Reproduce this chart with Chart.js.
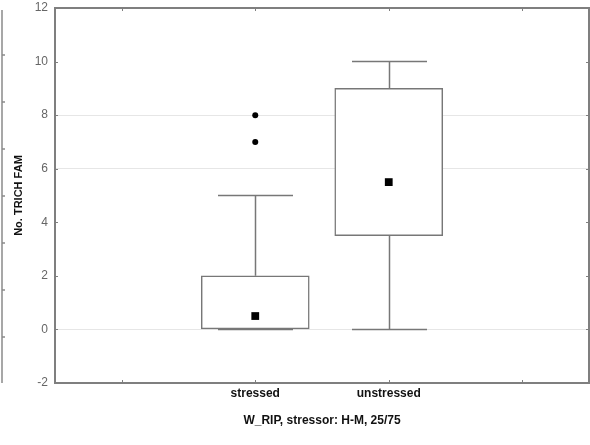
<!DOCTYPE html>
<html>
<head>
<meta charset="utf-8">
<script src="https://cdn.jsdelivr.net/npm/chart.js@4.4.1/dist/chart.umd.min.js"></script>
<style>
  html, body { margin: 0; padding: 0; background: #fff; }
  #wrap { width: 590px; height: 445px; position: relative; }
</style>
</head>
<body>
<div id="wrap"><canvas id="c" width="590" height="445"></canvas></div>
<script>
// Groups and their summary statistics
const groups       = ['stressed', 'unstressed'];
const groupPos     = [1, 2];
const boxLow       = [0, 3.5];     // 25th percentile
const boxHigh      = [2, 9];       // 75th percentile
const medians      = [0.5, 5.5];
const whiskerMin   = [0, 0];
const whiskerMax   = [5, 10];
const outliers     = [[7, 8], []];

const yTicks       = [-2, 0, 2, 4, 6, 8, 10, 12];
const gridValues   = [0, 6, 8];
const xTickSlots   = [0, 1, 2, 3];

const FRAME = '#7f7f7f';
const BOX = '#777777';
const FONT = 'Arial, "Liberation Sans", sans-serif';

const boxData = groups.map((g, i) => ({ x: groupPos[i], y: [boxLow[i], boxHigh[i]] }));
const medianData = groups.map((g, i) => ({ x: groupPos[i], y: medians[i] }));
const outlierData = [];
outliers.forEach((list, i) => list.forEach(v => outlierData.push({ x: groupPos[i], y: v })));

// Whiskers with caps, drawn beneath the boxes
const whiskerPlugin = {
  id: 'whiskers',
  beforeDatasetsDraw(chart) {
    const { ctx, scales: { x, y } } = chart;
    ctx.save();
    ctx.strokeStyle = BOX;
    ctx.lineWidth = 1.5;
    groups.forEach((g, i) => {
      const px = Math.round(x.getPixelForValue(groupPos[i])) + 0.5;
      const capHalf = 37.5;
      const segs = [[boxHigh[i], whiskerMax[i]], [boxLow[i], whiskerMin[i]]];
      segs.forEach(([from, to]) => {
        const y0 = y.getPixelForValue(from), y1 = y.getPixelForValue(to);
        ctx.beginPath();
        ctx.moveTo(px, y0); ctx.lineTo(px, y1);
        ctx.moveTo(px - capHalf, y1); ctx.lineTo(px + capHalf, y1);
        ctx.stroke();
      });
    });
    ctx.restore();
  }
};

// Frame round the plot area with inward tick marks on all sides
const framePlugin = {
  id: 'frame',
  afterDatasetsDraw(chart) {
    const { ctx, chartArea: a, scales: { x, y } } = chart;
    ctx.save();
    ctx.strokeStyle = FRAME;
    ctx.lineWidth = 2;
    ctx.strokeRect(a.left, a.top, a.right - a.left, a.bottom - a.top);
    ctx.lineWidth = 1;
    ctx.beginPath();
    yTicks.forEach(v => {
      const py = Math.round(y.getPixelForValue(v)) + 0.5;
      ctx.moveTo(a.left, py); ctx.lineTo(a.left + 3, py);
      ctx.moveTo(a.right, py); ctx.lineTo(a.right - 3, py);
    });
    xTickSlots.forEach(v => {
      const px = Math.round(x.getPixelForValue(v)) + 0.5;
      ctx.moveTo(px, a.bottom); ctx.lineTo(px, a.bottom - 3);
      ctx.moveTo(px, a.top); ctx.lineTo(px, a.top + 3);
    });
    ctx.stroke();

    // edge of the neighbouring panel at the far left
    ctx.strokeStyle = '#8a8a8a';
    ctx.lineWidth = 1.5;
    ctx.beginPath();
    ctx.moveTo(2, a.top + 2); ctx.lineTo(2, a.bottom);
    for (let t = a.top + 47; t < a.bottom; t += 47) {
      ctx.moveTo(2, t); ctx.lineTo(5, t);
    }
    ctx.stroke();
    ctx.restore();
  }
};

new Chart(document.getElementById('c'), {
  data: {
    datasets: [
      {
        type: 'scatter',
        data: outlierData,
        pointStyle: 'circle',
        pointRadius: 3,
        backgroundColor: '#000',
        borderWidth: 0,
        order: 0
      },
      {
        type: 'scatter',
        data: medianData,
        pointStyle: 'rect',
        pointRadius: 5.5,
        backgroundColor: '#000',
        borderWidth: 0,
        order: 1
      },
      {
        type: 'bar',
        data: boxData,
        backgroundColor: '#ffffff',
        borderColor: BOX,
        borderWidth: 1.5,
        borderSkipped: false,
        barThickness: 108,
        order: 2
      }
    ]
  },
  options: {
    responsive: false,
    animation: false,
    events: [],
    layout: { autoPadding: false, padding: { top: 8, right: 1, left: 0, bottom: 14 } },
    plugins: {
      legend: { display: false },
      tooltip: { enabled: false }
    },
    scales: {
      x: {
        type: 'linear',
        offset: false,
        min: -0.5,
        max: 3.5,
        afterBuildTicks(s) { s.ticks = xTickSlots.map(v => ({ value: v })); },
        afterFit(s) { s.height = 48; s.paddingLeft = 0; s.paddingRight = 0; },
        grid: { display: false, drawTicks: false, offset: false },
        border: { display: false },
        ticks: {
          padding: 3,
          color: '#111',
          font: { family: FONT, size: 12, weight: 'bold' },
          callback(v) { const i = groupPos.indexOf(v); return i >= 0 ? groups[i] : ''; }
        },
        title: {
          display: true,
          text: 'W_RIP, stressor: H-M, 25/75',
          color: '#111',
          padding: { top: 6, bottom: 3 },
          font: { family: FONT, size: 12, weight: 'bold' }
        }
      },
      y: {
        type: 'linear',
        min: -2,
        max: 12,
        afterBuildTicks(s) { s.ticks = yTicks.map(v => ({ value: v })); },
        afterFit(s) { s.width = 55; s.paddingTop = 0; s.paddingBottom = 0; },
        grid: {
          drawTicks: false,
          color: ctx => gridValues.includes(ctx.tick && ctx.tick.value) ? '#e6e6e6' : 'rgba(0,0,0,0)',
          lineWidth: 1
        },
        border: { display: false },
        ticks: {
          padding: 7,
          color: '#666',
          font: { family: FONT, size: 12 }
        },
        title: {
          display: true,
          text: 'No. TRICH FAM',
          color: '#111',
          padding: { top: 12, bottom: 0 },
          font: { family: FONT, size: 11, weight: 'bold' }
        }
      }
    }
  },
  plugins: [whiskerPlugin, framePlugin]
});
</script>
</body>
</html>
